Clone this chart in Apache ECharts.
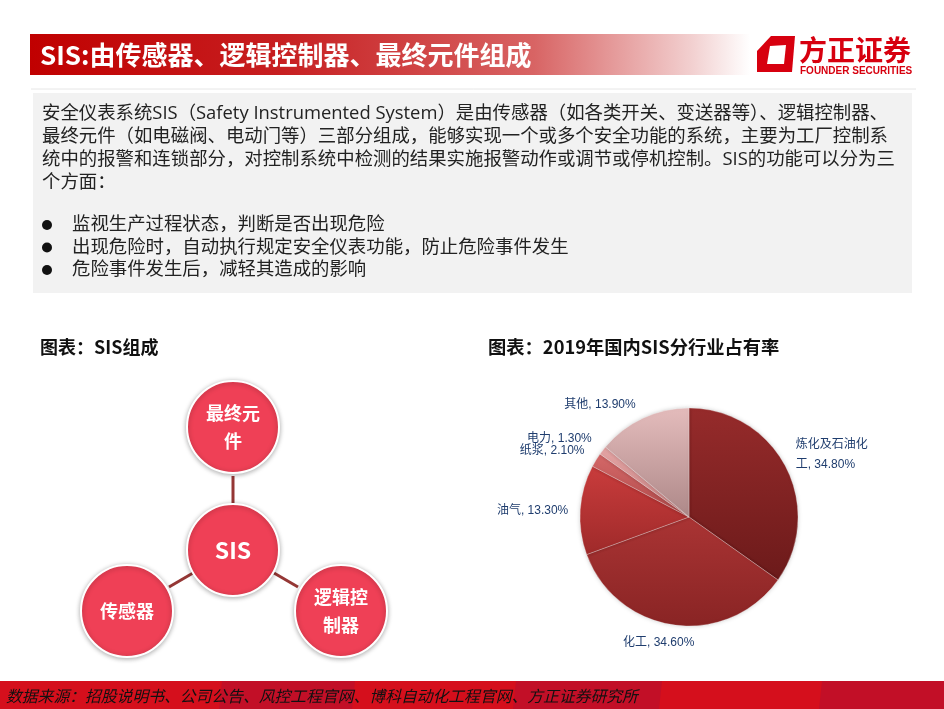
<!DOCTYPE html>
<html>
<head>
<meta charset="utf-8">
<script src="https://cdn.jsdelivr.net/npm/echarts@6/dist/echarts.min.js"></script>
<style>
html,body{margin:0;padding:0;background:#fff;}
#main{width:944px;height:709px;}
</style>
</head>
<body>
<div id="main"></div>
<script>
const categories = ['炼化及石油化工', '化工', '油气', '纸浆', '电力', '其他'];
const shares = [34.8, 34.6, 13.3, 2.1, 1.3, 13.9];
const sliceColors = [
  ['#962b2b', '#6c1a1a'],
  ['#aa3434', '#892424'],
  ['#c93c3c', '#9f2a2a'],
  ['#d46868', '#b04a4a'],
  ['#e4a4a4', '#c98484'],
  ['#e4bcbc', '#ad8888']
];
// label nudges (style only)
const labelNudge = [[-8, -8], [30, 8], [7, 2], [6, -4], [6, -6], [6, -4]];
const titleText = 'SIS:由传感器、逻辑控制器、最终元件组成';
const bodyLines = [
  '安全仪表系统SIS（Safety Instrumented System）是由传感器（如各类开关、变送器等）、逻辑控制器、',
  '最终元件（如电磁阀、电动门等）三部分组成，能够实现一个或多个安全功能的系统，主要为工厂控制系',
  '统中的报警和连锁部分，对控制系统中检测的结果实施报警动作或调节或停机控制。SIS的功能可以分为三',
  '个方面：'
];
const bulletLines = [
  '监视生产过程状态，判断是否出现危险',
  '出现危险时，自动执行规定安全仪表功能，防止危险事件发生',
  '危险事件发生后，减轻其造成的影响'
];
const nodeLabels = ['最终元\n件', 'SIS', '传感器', '逻辑控\n制器'];
const sourceText = '数据来源：招股说明书、公司公告、风控工程官网、博科自动化工程官网、方正证券研究所';

const CJK = '"Noto Sans CJK SC", "Noto Sans", sans-serif';
const BODY = '"Open Sans", "Noto Sans CJK SC", sans-serif';
const LAT = '"Liberation Sans", "Noto Sans CJK SC", sans-serif';

const chart = echarts.init(document.getElementById('main'), null, {renderer: 'canvas'});

const g = [];
// header bar
g.push({type: 'rect', shape: {x: 30, y: 34, width: 720, height: 41},
  style: {fill: new echarts.graphic.LinearGradient(0, 0, 1, 0, [
    {offset: 0, color: '#c00000'}, {offset: 0.35, color: '#c71f21'},
    {offset: 0.7, color: '#d86464'}, {offset: 0.92, color: '#f2d0d0'}, {offset: 1, color: '#ffffff'}])}});
g.push({type: 'text', x: 40, y: 55, style: {text: titleText, fill: '#fff', font: 'bold 26px ' + CJK, textVerticalAlign: 'middle'}});
// logo
g.push({type: 'polygon', shape: {points: [[771, 36], [795, 36], [792, 72], [757, 72], [757, 51]]}, style: {fill: '#d7000f'}});
g.push({type: 'polygon', shape: {points: [[770, 46], [786, 45], [784, 64], [767, 64]]}, style: {fill: '#fff'}});
g.push({type: 'text', x: 799, y: 50, style: {text: '方正证券', fill: '#d7000f', font: 'bold 28px ' + CJK, textVerticalAlign: 'middle'}});
g.push({type: 'text', x: 800, y: 71, style: {text: 'FOUNDER SECURITIES', fill: '#d7000f', font: 'bold 10px ' + LAT, textVerticalAlign: 'middle'}});
// separator line
g.push({type: 'line', shape: {x1: 31, y1: 89, x2: 916, y2: 89}, style: {stroke: '#e6e6e6', lineWidth: 1}});
// text box
g.push({type: 'rect', shape: {x: 33, y: 93, width: 879, height: 200}, style: {fill: '#f2f2f2'}});
bodyLines.forEach((t, i) => {
  g.push({type: 'text', x: 42, y: 114 + i * 23, style: {text: t, fill: '#222', font: '18.4px ' + BODY, textVerticalAlign: 'middle'}});
});
bulletLines.forEach((t, i) => {
  g.push({type: 'circle', shape: {cx: 47, cy: 225 + i * 22.5, r: 5}, style: {fill: '#111'}});
  g.push({type: 'text', x: 72, y: 225 + i * 22.5, style: {text: t, fill: '#222', font: '18.4px ' + BODY, textVerticalAlign: 'middle'}});
});
// section titles
g.push({type: 'text', x: 40, y: 347, style: {text: '图表：SIS组成', fill: '#111', font: 'bold 18px ' + CJK, textVerticalAlign: 'middle'}});
g.push({type: 'text', x: 488, y: 347, style: {text: '图表：2019年国内SIS分行业占有率', fill: '#111', font: 'bold 18.3px ' + CJK, textVerticalAlign: 'middle'}});
// diagram connectors
const lineStyle = {stroke: '#953735', lineWidth: 3};
g.push({type: 'line', shape: {x1: 233, y1: 476, x2: 233, y2: 503}, style: lineStyle});
g.push({type: 'line', shape: {x1: 169, y1: 587, x2: 193, y2: 573}, style: lineStyle});
g.push({type: 'line', shape: {x1: 274, y1: 573, x2: 298, y2: 587}, style: lineStyle});
// diagram nodes
const nodes = [[233, 427], [233, 550], [127, 611], [341, 611]];
nodes.forEach((p, i) => {
  g.push({type: 'circle', shape: {cx: p[0], cy: p[1], r: 46},
    style: {fill: '#ef4056', stroke: '#fff', lineWidth: 2, shadowBlur: 5, shadowColor: 'rgba(0,0,0,0.3)', shadowOffsetY: 1}});
  g.push({type: 'text', x: p[0], y: p[1], style: {text: nodeLabels[i], fill: '#fff',
    font: (i === 1 ? 'bold 23px ' : 'bold 18px ') + CJK, lineHeight: 28, align: 'center', verticalAlign: 'middle'}});
});
// footer
g.push({type: 'rect', shape: {x: 0, y: 681, width: 944, height: 28}, style: {fill: '#d50f1c'}});
g.push({type: 'polygon', shape: {points: [[222, 681], [355, 681], [352, 709], [219, 709]]}, style: {fill: '#c20f27'}});
g.push({type: 'polygon', shape: {points: [[516, 681], [662, 681], [659, 709], [513, 709]]}, style: {fill: '#c20f27'}});
g.push({type: 'polygon', shape: {points: [[822, 681], [944, 681], [944, 709], [819, 709]]}, style: {fill: '#c20f27'}});
g.push({type: 'text', x: 6, y: 696, style: {text: sourceText, fill: '#111', font: 'italic 15.8px ' + CJK, textVerticalAlign: 'middle'}});

const option = {
  animation: false,
  graphic: {elements: g},
  series: [{
    type: 'pie',
    center: [689, 517],
    radius: 109,
    startAngle: 90,
    clockwise: true,
    avoidLabelOverlap: false,
    itemStyle: {borderColor: 'rgba(255,255,255,0.45)', borderWidth: 0.6, shadowBlur: 4, shadowColor: 'rgba(0,0,0,0.2)'},
    label: {
      show: true, position: 'outside', color: '#1f3d6e', fontSize: 12, fontFamily: LAT,
      width: 76, overflow: 'break', lineHeight: 20,
      formatter: p => p.name + ', ' + p.value.toFixed(2) + '%'
    },
    labelLine: {show: false, length: 10, length2: 4},
    labelLayout: p => ({hideOverlap: false, dx: labelNudge[p.dataIndex][0], dy: labelNudge[p.dataIndex][1]}),
    emphasis: {disabled: true},
    data: categories.map((c, i) => ({
      name: c, value: shares[i],
      itemStyle: {color: new echarts.graphic.LinearGradient(0, 0, 0, 1, [
        {offset: 0, color: sliceColors[i][0]}, {offset: 1, color: sliceColors[i][1]}])}
    }))
  }]
};
chart.setOption(option);
</script>
</body>
</html>
